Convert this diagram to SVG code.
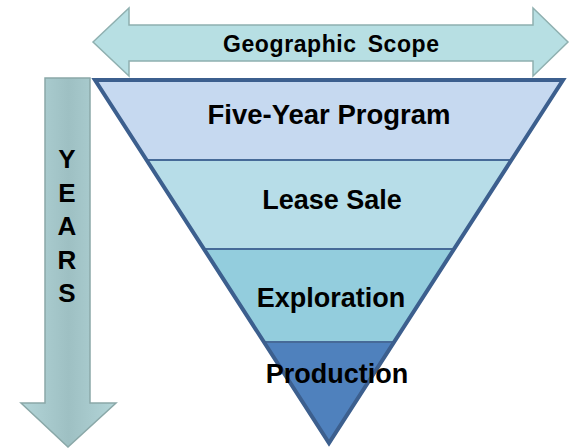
<svg xmlns="http://www.w3.org/2000/svg" width="570" height="448" viewBox="0 0 570 448">
  <style>
    .lbl { font-family: "Liberation Sans", Arial, sans-serif; font-weight: bold; fill: #000; text-anchor: middle; }
    .big { font-size: 27px; }
    .yr { font-size: 26px; }
    .band { stroke: #466a98; stroke-width: 2; }
  </style>
  <defs>
    <linearGradient id="yg" x1="0" y1="0" x2="1" y2="0">
      <stop offset="0" stop-color="#b3d5d8"/>
      <stop offset="0.5" stop-color="#9ec0c3"/>
      <stop offset="1" stop-color="#b3d5d8"/>
    </linearGradient>
  </defs>
  <rect width="570" height="448" fill="#ffffff"/>
  <g id="geographic-scope">
    <path d="M93,42 L129,8 L129,25 L533,25 L533,8 L568,42 L533,76 L533,61 L129,61 L129,76 Z" fill="#b7dfe3" stroke="#8fb0b0" stroke-width="1.5"/>
    <text class="lbl" x="331" y="52" font-size="23" textLength="216" lengthAdjust="spacing" word-spacing="4">Geographic Scope</text>
  </g>
  <g id="years">
    <path d="M45,78 L90,78 L90,403 L116,403 L68,447 L21,403 L45,403 Z" fill="url(#yg)" stroke="#8aa8a8" stroke-width="1.5"/>
    <text class="lbl yr" x="67" y="168">Y</text>
    <text class="lbl yr" x="67" y="201.5">E</text>
    <text class="lbl yr" x="67" y="235">A</text>
    <text class="lbl yr" x="67" y="268.5">R</text>
    <text class="lbl yr" x="67" y="302">S</text>
  </g>
  <g id="five-year-program">
    <polygon class="band" points="95,80 563,80 511.4,160 146.6,160" fill="#c6d9f0"/>
  </g>
  <g id="lease-sale">
    <polygon class="band" points="146.6,160 511.4,160 454.1,249 203.9,249" fill="#b7dde8"/>
  </g>
  <g id="exploration">
    <polygon class="band" points="203.9,249 454.1,249 394.1,342 263.9,342" fill="#93cddd"/>
  </g>
  <g id="production">
    <polygon class="band" points="263.9,342 394.1,342 329,443" fill="#4f81bd"/>
  </g>
  <g id="outline">
    <polygon points="95,80 563,80 329,443" fill="none" stroke="#3c5f8e" stroke-width="4" stroke-linejoin="miter"/>
  </g>
  <g id="labels">
    <text class="lbl big" x="329" y="124" textLength="243" lengthAdjust="spacingAndGlyphs">Five-Year Program</text>
    <text class="lbl big" x="332" y="209">Lease Sale</text>
    <text class="lbl big" x="331" y="307">Exploration</text>
    <text class="lbl big" x="337" y="383">Production</text>
  </g>
</svg>
